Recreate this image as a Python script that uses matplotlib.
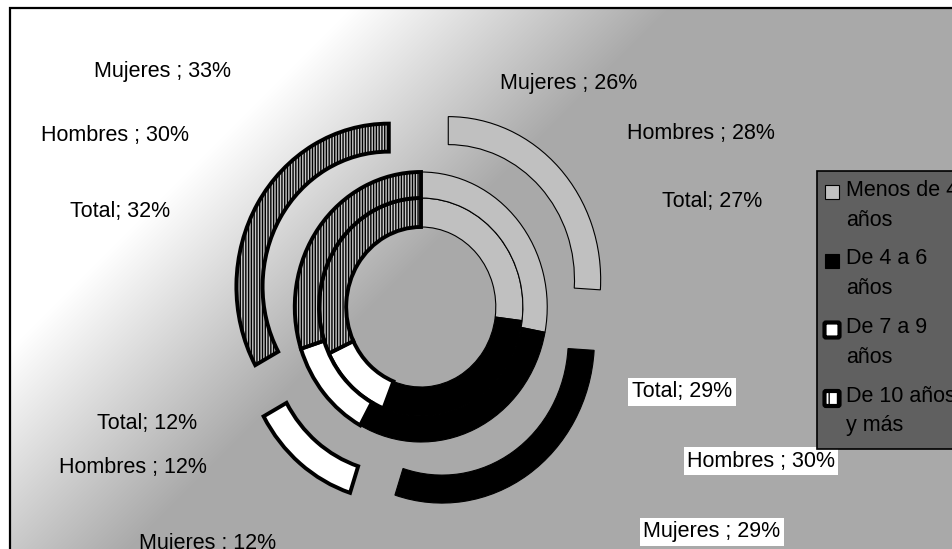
import numpy as np
import matplotlib
matplotlib.use("Agg")
import matplotlib.pyplot as plt
from matplotlib.patches import Rectangle, FancyBboxPatch

plt.rcParams['font.family'] = ['Liberation Sans', 'DejaVu Sans']
plt.rcParams['hatch.linewidth'] = 1.0

# ---- data ----
categories = ["Menos de 4\naños", "De 4 a 6\naños", "De 7 a 9\naños", "De 10 años\ny más"]
series_names = ["Total", "Hombres ", "Mujeres "]
total = [27, 29, 12, 32]
hombres = [28, 30, 12, 30]
mujeres = [26, 29, 12, 33]

# ---- styles ----
faces = ['#c0c0c0', '#000000', '#ffffff', '#c8c8c8']
edge_lw = [0.8, 0.8, 2.8, 2.8]
hatches = [None, None, None, '||||||']

W, H = 952, 549
fig = plt.figure(figsize=(W / 100, H / 100), dpi=100)
fig.patch.set_facecolor('white')

# background axes in pixel coordinates
bg = fig.add_axes([0, 0, 1, 1])
bg.set_xlim(0, W)
bg.set_ylim(H, 0)
bg.axis('off')

# gradient plot area
x0, y0 = 10, 8
xs = np.arange(x0, W + 1)
ys = np.arange(y0, H + 1)
XX, YY = np.meshgrid(xs, ys)
s = XX + YY
v = np.clip(1.0 - (s - 360) / (680 - 360) * (1 - 0.663), 0.663, 1.0)
img = np.dstack([v, v, v])
bg.imshow(img, extent=(x0, W, H, y0), origin='upper', aspect='auto', zorder=0, interpolation='bilinear')
bg.plot([x0, x0, W + 5], [H + 5, y0, y0], color='black', lw=1.6, zorder=1, solid_joinstyle='miter')

# pie axes
cx, cy = 421, 307
rx_px, ry_px = 187, 200
pax = fig.add_axes([(cx - rx_px) / W, (H - cy - ry_px) / H, 2 * rx_px / W, 2 * ry_px / H])

rings = [(total, 0.545, 0.145, None),
         (hombres, 0.675, 0.13, None),
         (mujeres, 0.815, 0.14, [0.2] * 4)]
for vals, r, w, expl in rings:
    wedges, _ = pax.pie(vals, radius=r, startangle=90, counterclock=False,
                        explode=expl, colors=faces,
                        wedgeprops=dict(width=w, edgecolor='black', linewidth=0.8))
    for i, wd in enumerate(wedges):
        wd.set_linewidth(edge_lw[i])
        wd.set_joinstyle('miter')
        if hatches[i]:
            wd.set_hatch(hatches[i])
pax.set_aspect('auto')
pax.set_xlim(-1, 1)
pax.set_ylim(-1, 1)
pax.axis('off')

# data labels (Excel-style positions)
fs = 15.5
labels = [
    (f"{series_names[2]}; {mujeres[3]}%", 162, 71, False),
    (f"{series_names[2]}; {mujeres[0]}%", 569, 83, False),
    (f"{series_names[1]}; {hombres[3]}%", 115, 136, False),
    (f"{series_names[1]}; {hombres[0]}%", 701, 134, False),
    (f"{series_names[0]}; {total[3]}%", 120, 211, False),
    (f"{series_names[0]}; {total[0]}%", 712, 201, False),
    (f"{series_names[0]}; {total[1]}%", 682, 392, True),
    (f"{series_names[0]}; {total[2]}%", 147, 424, False),
    (f"{series_names[1]}; {hombres[2]}%", 133, 468, False),
    (f"{series_names[1]}; {hombres[1]}%", 761, 461, True),
    (f"{series_names[2]}; {mujeres[2]}%", 208, 543, False),
    (f"{series_names[2]}; {mujeres[1]}%", 712, 532, True),
]
for txt, lx, ly, boxed in labels:
    kw = {}
    if boxed:
        kw['bbox'] = dict(facecolor='white', edgecolor='none', pad=2.5)
    bg.text(lx, ly, txt, fontsize=fs, ha='center', va='center', color='black', zorder=5, **kw)

# legend (manual, Excel-like)
bg.add_patch(Rectangle((817, 171), 200, 278, facecolor='#606060', edgecolor='black', lw=1.2, zorder=6))
ey0, dy = 192, 68.5
for i, cat in enumerate(categories):
    ey = ey0 + i * dy
    if i < 2:
        bg.add_patch(Rectangle((825, ey - 7), 14, 14, facecolor=faces[i], edgecolor='black',
                               lw=0.8, zorder=7))
    else:
        bg.add_patch(FancyBboxPatch((826, ey - 5), 12, 12, boxstyle='round,pad=1.5',
                                    facecolor='#ffffff', edgecolor='black',
                                    lw=3.0, hatch='||' if i == 3 else None, zorder=7))
    bg.text(846, ey - 12, cat, fontsize=fs, ha='left', va='top', color='black',
            linespacing=1.55, zorder=8)

fig.savefig('out.png', dpi=100)
